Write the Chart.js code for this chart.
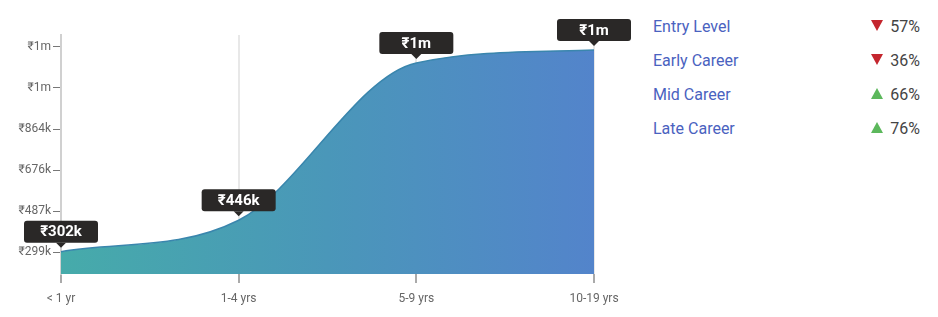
<!DOCTYPE html>
<html>
<head>
<meta charset="utf-8">
<script src="https://cdn.jsdelivr.net/npm/chart.js@4.4.1/dist/chart.umd.min.js"></script>
<style>
  html, body { margin: 0; padding: 0; background: #fff; }
  body { width: 938px; height: 317px; position: relative; overflow: hidden; font-family: Roboto, "Noto Sans", sans-serif; }
  #wrap { position: absolute; left: 0; top: 0; width: 640px; height: 317px; }
  #legend { position: absolute; left: 653px; top: 10px; width: 267px; }
  .row { height: 34px; line-height: 34px; font-size: 16px; position: relative; }
  .row .name { color: #4a62c0; }
  .row .pct { position: absolute; right: 0; top: 0; color: #444; }
  .tri { display: inline-block; width: 0; height: 0; margin-right: 7px; vertical-align: 1px; border-left: 6px solid transparent; border-right: 6px solid transparent; }
  .down { border-top: 11px solid #c4262e; }
  .up { border-bottom: 11px solid #5cb85c; }
</style>
</head>
<body>
<div id="wrap"><canvas id="chart-salary" width="640" height="317"></canvas></div>
<div id="legend"></div>
<script>
// Experience levels on x axis
const categories = ['< 1 yr', '1-4 yrs', '5-9 yrs', '10-19 yrs'];
// Median salary (INR)
const salaryValues = [302000, 446000, 1167000, 1226000];
// Labels shown in the dark boxes above the points
const pointLabels = ['₹302k', '₹446k', '₹1m', '₹1m'];
// Y axis ticks
const yTickValues = [299000, 487000, 676000, 864000, 1053000, 1241000];
const yTickLabels = ['₹299k', '₹487k', '₹676k', '₹864k', '₹1m', '₹1m'];
// Side legend
const legendNames = ['Entry Level', 'Early Career', 'Mid Career', 'Late Career'];
const legendPercents = [57, 36, 66, 76];
const legendTrend = ['down', 'down', 'up', 'up'];

// build side legend
const legendEl = document.getElementById('legend');
legendNames.forEach((name, i) => {
    const row = document.createElement('div');
    row.className = 'row';
    row.innerHTML = '<span class="name">' + name + '</span>' +
        '<span class="pct"><span class="tri ' + legendTrend[i] + '"></span>' + legendPercents[i] + '%</span>';
    legendEl.appendChild(row);
});

Chart.defaults.font.family = 'Roboto, "Noto Sans", sans-serif';
Chart.defaults.color = '#666';

// horizontal gradient for the area
function areaGradient(ctx) {
    const area = ctx.chart.chartArea;
    if (!area) return '#4a98b8';
    const g = ctx.chart.ctx.createLinearGradient(area.left, 0, area.right, 0);
    g.addColorStop(0, '#46abaa');
    g.addColorStop(0.5, '#4a97b9');
    g.addColorStop(1, '#5384cb');
    return g;
}

// dark label boxes above each point
const pointBoxes = {
    id: 'pointBoxes',
    afterDatasetsDraw(chart) {
        const c = chart.ctx;
        const meta = chart.getDatasetMeta(0);
        meta.data.forEach((pt, i) => {
            const x = pt.x, y = pt.y;
            const w = 74, h = 22, caret = 5, gap = 4;
            const bottom = y - gap - caret;
            const top = bottom - h;
            c.save();
            c.fillStyle = '#2a2827';
            c.beginPath();
            c.roundRect(x - w / 2, top, w, h, 3);
            c.fill();
            c.beginPath();
            c.moveTo(x - 5, bottom);
            c.lineTo(x + 5, bottom);
            c.lineTo(x, bottom + caret);
            c.closePath();
            c.fill();
            c.fillStyle = '#fff';
            c.font = 'bold 15px Roboto, "Noto Sans", sans-serif';
            c.textAlign = 'center';
            c.textBaseline = 'middle';
            c.fillText(pointLabels[i], x, top + h / 2 + 1);
            c.restore();
        });
    }
};

new Chart(document.getElementById('chart-salary'), {
    type: 'line',
    data: {
        labels: categories,
        datasets: [{
            data: salaryValues,
            fill: 'start',
            backgroundColor: areaGradient,
            borderColor: '#3a86ad',
            borderWidth: 1.5,
            cubicInterpolationMode: 'monotone',
            pointRadius: 0
        }]
    },
    options: {
        responsive: false,
        devicePixelRatio: 1,
        animation: false,
        layout: { padding: { top: 35, right: 46, left: 0, bottom: 0 } },
        plugins: { legend: { display: false }, tooltip: { enabled: false } },
        scales: {
            x: {
                z: 1,
                afterFit(scale) { scale.height = 43; },
                border: { display: false },
                grid: {
                    color: 'rgba(0,0,0,0.09)',
                    lineWidth: 2,
                    tickColor: '#aaa',
                    tickLength: 9
                },
                ticks: { font: { size: 12 }, color: '#666', padding: 9, maxRotation: 0 }
            },
            y: {
                min: 199500,
                max: 1295000,
                afterFit(scale) { scale.width = 61; },
                afterBuildTicks(scale) {
                    scale.ticks = yTickValues.map(v => ({ value: v }));
                },
                border: { color: '#d0d0d0', width: 2 },
                grid: {
                    drawOnChartArea: false,
                    tickLength: 8,
                    tickColor: '#777',
                    lineWidth: 1
                },
                ticks: {
                    font: { size: 12 },
                    color: '#666',
                    padding: 2,
                    callback: (value, index) => yTickLabels[index]
                }
            }
        }
    },
    plugins: [pointBoxes]
});
</script>
</body>
</html>
